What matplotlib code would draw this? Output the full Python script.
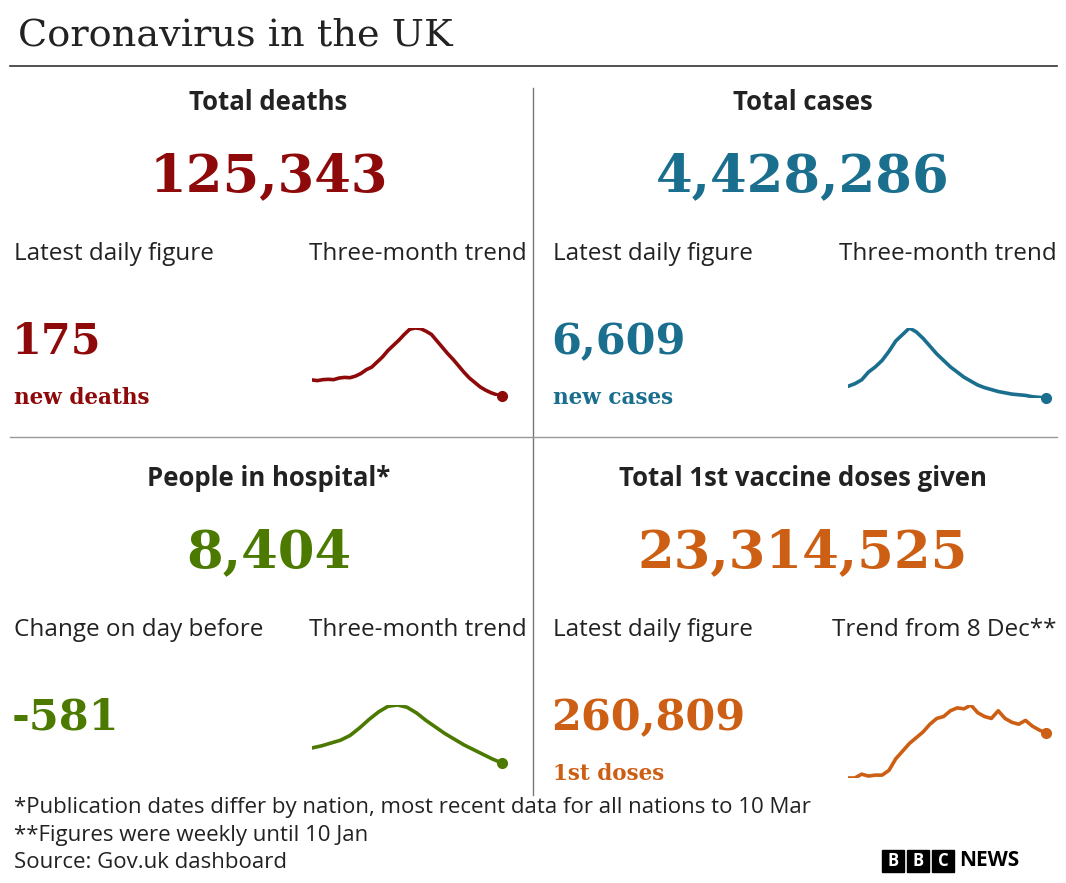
import matplotlib.pyplot as plt
from matplotlib.patches import Rectangle

W, H = 1066, 883

deaths_trend = [440, 430, 445, 450, 445, 470, 480, 475, 500, 540, 600, 640, 720, 800, 900, 980,
                1060, 1150, 1230, 1250, 1240, 1200, 1150, 1050, 950, 850, 760, 660, 560, 470, 400,
                330, 280, 240, 210, 190]
cases_trend = [15000, 17000, 20000, 26000, 30000, 35000, 42000, 50000, 55000, 60000, 57000, 52000,
               46000, 40000, 35000, 30000, 26000, 22000, 19000, 16000, 14000, 12500, 11000, 10000,
               9000, 8500, 8000, 7000, 6500, 6000]
hospital_trend = [16400, 17500, 19000, 20500, 23000, 27000, 31500, 35500, 38500, 39200, 38000, 35000,
                  31000, 27500, 24000, 21000, 18000, 15500, 13000, 10500, 8400]
vaccine_trend = [20, 20, 40, 30, 35, 35, 60, 120, 160, 200, 230, 260, 300, 330, 340, 370, 385, 380,
                 400, 360, 340, 330, 370, 330, 310, 300, 320, 290, 270, 255]

headers = ["Total deaths", "Total cases", "People in hospital*", "Total 1st vaccine doses given"]
totals = ["125,343", "4,428,286", "8,404", "23,314,525"]
left_labels = ["Latest daily figure", "Latest daily figure", "Change on day before", "Latest daily figure"]
right_labels = ["Three-month trend", "Three-month trend", "Three-month trend", "Trend from 8 Dec**"]
daily = ["175", "6,609", "-581", "260,809"]
daily_sub = ["new deaths", "new cases", "", "1st doses"]
colors = ["#8e0a0a", "#1a6e8e", "#4c7a00", "#cc5f14"]
footnotes = ["*Publication dates differ by nation, most recent data for all nations to 10 Mar",
             "**Figures were weekly until 10 Jan",
             "Source: Gov.uk dashboard"]

SANS = "Open Sans"
SERIF = "DejaVu Serif"

fig = plt.figure(figsize=(W / 100, H / 100), dpi=100)
ax = fig.add_axes([0, 0, 1, 1])
ax.set_xlim(0, W)
ax.set_ylim(H, 0)
ax.axis("off")

ax.text(18, 36, "Coronavirus in the UK", fontsize=27.5, family=SERIF, va="center", color="#222")
ax.plot([10, 1057], [66, 66], color="#333", lw=1.2)
ax.plot([533, 533], [88, 795], color="#777", lw=1)
ax.plot([10, 1057], [437, 437], color="#999", lw=1)

panels = [(10, 527, 0), (549, 1057, 0), (10, 527, 376), (549, 1057, 376)]
spark = [(312, 502, 328, 396), (848, 1046, 328, 398), (312, 502, 705, 763), (848, 1046, 705, 778)]
trends = [deaths_trend, cases_trend, hospital_trend, vaccine_trend]

for i, (x0, x1, dy) in enumerate(panels):
    c = colors[i]
    cx = (x0 + x1) / 2
    ax.text(cx, 102 + dy, headers[i], fontsize=18.5, family=SANS, weight="bold",
            ha="center", va="center", color="#222")
    ax.text(cx, 177 + dy, totals[i], fontsize=38, family=SERIF, weight="bold",
            ha="center", va="center", color=c)
    ax.text(x0 + 4, 254 + dy, left_labels[i], fontsize=17.5, family=SANS, va="center", color="#222")
    ax.text(x1, 254 + dy, right_labels[i], fontsize=17.5, family=SANS, ha="right", va="center", color="#222")
    ax.text(x0 + 2, 342 + dy, daily[i], fontsize=31, family=SERIF, weight="bold", va="center", color=c)
    if daily_sub[i]:
        ax.text(x0 + 4, 398 + dy, daily_sub[i], fontsize=15.5, family=SERIF, weight="bold",
                va="center", color=c)

    sx0, sx1, sy0, sy1 = spark[i]
    sa = fig.add_axes([sx0 / W, 1 - sy1 / H, (sx1 - sx0) / W, (sy1 - sy0) / H])
    vals = trends[i]
    sa.plot(range(len(vals)), vals, color=c, lw=2.6, solid_capstyle="round")
    sa.plot(len(vals) - 1, vals[-1], "o", color=c, ms=7, clip_on=False)
    sa.set_xlim(0, len(vals) - 1)
    sa.set_ylim(min(vals), max(vals))
    sa.axis("off")

for k, t in enumerate(footnotes):
    ax.text(14, 808 + 27 * k, t, fontsize=16, family=SANS, va="center", color="#222")

# BBC NEWS logo
for k, letter in enumerate("BBC"):
    bx = 882 + k * 25
    ax.add_patch(Rectangle((bx, 850), 22, 22, color="#000"))
    ax.text(bx + 11, 861, letter, fontsize=12, weight="bold", family=SANS,
            ha="center", va="center", color="white")
ax.text(959, 861, "NEWS", fontsize=15, weight="bold", family=SANS, va="center", color="#000")

fig.savefig("out.png", dpi=100)
